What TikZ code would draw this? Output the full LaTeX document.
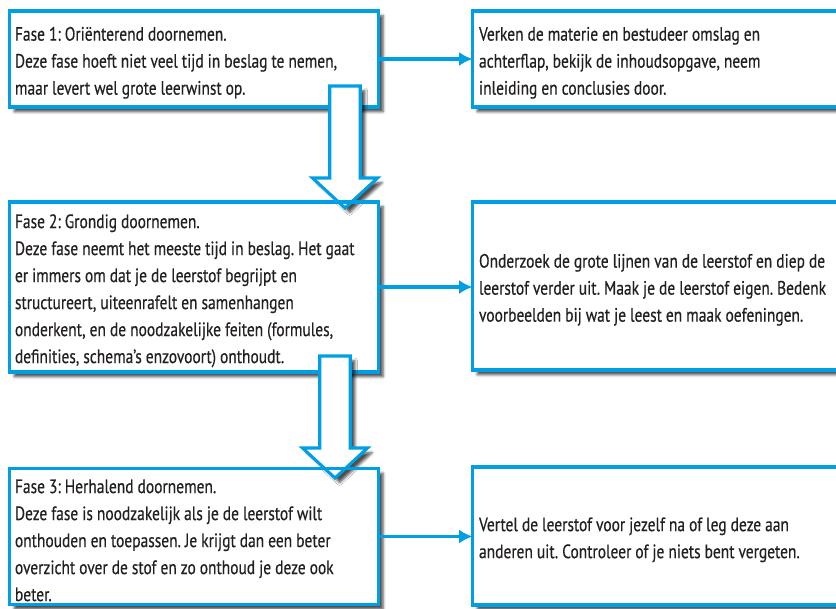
\documentclass[tikz,border=0pt]{standalone}
\usepackage{fontspec}
\setmainfont{PT Sans}[FakeStretch=0.80, FakeBold=0.4]
\usetikzlibrary{arrows.meta,calc,shadows.blur}

\definecolor{faseblue}{HTML}{009FE3}
\definecolor{fasetext}{HTML}{231F20}

\newcommand\fasefont{\frenchspacing\fontsize{14.5}{20.25}\selectfont}
\newcommand\fasestart{\raggedright\spaceskip=3pt plus 1pt minus 0.5pt\relax
  \xspaceskip=3pt\relax\vrule height 16pt depth 0pt width 0pt\relax}

\tikzset{
  fasebox/.style={rectangle, draw=faseblue, line width=2.6pt, fill=white,
    anchor=north west, outer sep=0pt, inner ysep=0pt,
    text=fasetext, font=\fasefont,
    execute at begin node=\fasestart,
    blur shadow={shadow xshift=3.5pt, shadow yshift=-3.5pt, shadow opacity=70}},
  linkerbox/.style={fasebox, inner xsep=4.1pt, text width=268.5pt},
  rechterbox/.style={fasebox, inner xsep=4.9pt, text width=280.8pt},
  link/.style={-{Latex[length=10pt,width=10.5pt]}, faseblue, line width=2.5pt},
  blokpijl/.style={draw=faseblue, line width=2.3pt, fill=white, line join=miter,
    blur shadow={shadow xshift=3.5pt, shadow yshift=-3.5pt, shadow opacity=70}}
}

\begin{document}
\begin{tikzpicture}[x=0.75pt, y=-0.75pt]

% Parameters (pixels)
\def\sw{15.25} % half width of the shaft
\def\hw{32.5}  % half width of the head
\def\hl{30}    % length of the head

\useasboundingbox (0,0) rectangle (836,608);
\clip (0,0) rectangle (836,608);

% Phases (left)
\node[linkerbox, minimum height=72pt] (f1) at (9.5,11)
  {Fase 1: Oriënterend doornemen.\\
   Deze fase hoeft niet veel tijd in beslag te nemen,\\
   maar levert wel grote leerwinst op.};
\node[linkerbox, minimum height=127.5pt] (f2) at (9.5,202)
  {Fase 2: Grondig doornemen.\\
   Deze fase neemt het meeste tijd in beslag. Het gaat\\
   er immers om dat je de leerstof begrijpt en\\
   structureert, uiteenrafelt en samenhangen\\
   onderkent, en de noodzakelijke feiten (formules,\\
   definities, schema’s enzovoort) onthoudt.};
\node[linkerbox, minimum height=102pt] (f3) at (9.5,468.5)
  {Fase 3: Herhalend doornemen.\\
   Deze fase is noodzakelijk als je de leerstof wilt\\
   onthouden en toepassen. Je krijgt dan een beter\\
   overzicht over de stof en zo onthoud je deze ook\\
   beter.};

% Activities (right)
\node[rechterbox, minimum height=72pt] (r1) at (472.5,11)
  {Verken de materie en bestudeer omslag en\\
   achterflap, bekijk de inhoudsopgave, neem\\
   inleiding en conclusies door.};
\node[rechterbox, minimum height=126pt] (r2) at (472.5,202)
  {Onderzoek de grote lijnen van de leerstof en diep de\\
   leerstof verder uit. Maak je de leerstof eigen. Bedenk\\
   voorbeelden bij wat je leest en maak oefeningen.};
\node[rechterbox, minimum height=103.5pt] (r3) at (472.5,467)
  {Vertel de leerstof voor jezelf na of leg deze aan\\
   anderen uit. Controleer of je niets bent vergeten.};

% Links phase -> activity
\draw[link] (f1.east) -- (f1.east -| r1.west);
\draw[link] (f2.east) -- (f2.east -| r2.west);
\draw[link] (f3.east) -- (f3.east -| r3.west);

% Block arrows between phases
\coordinate (a1s) at ($(f1.south west)+(335.5,-21)$);
\coordinate (a1t) at ($(f2.north west)+(335.5,6)$);
\coordinate (a2s) at ($(f2.south west)+(325.5,-16)$);
\coordinate (a2t) at ($(f3.north west)+(325.5,9.5)$);

\draw[blokpijl] ($(a1s)+(-\sw,0)$) -- ($(a1s)+(\sw,0)$) -- ($(a1t)+(\sw,-\hl)$)
  -- ($(a1t)+(\hw,-\hl)$) -- (a1t) -- ($(a1t)+(-\hw,-\hl)$) -- ($(a1t)+(-\sw,-\hl)$) -- cycle;
\draw[blokpijl] ($(a2s)+(-\sw,0)$) -- ($(a2s)+(\sw,0)$) -- ($(a2t)+(\sw,-\hl)$)
  -- ($(a2t)+(\hw,-\hl)$) -- (a2t) -- ($(a2t)+(-\hw,-\hl)$) -- ($(a2t)+(-\sw,-\hl)$) -- cycle;

% Top borders of phase 2 and 3 over the arrow tips
\draw[faseblue, line width=2.6pt] (f2.north west) -- (f2.north east);
\draw[faseblue, line width=2.6pt] (f3.north west) -- (f3.north east);

\end{tikzpicture}
\end{document}
